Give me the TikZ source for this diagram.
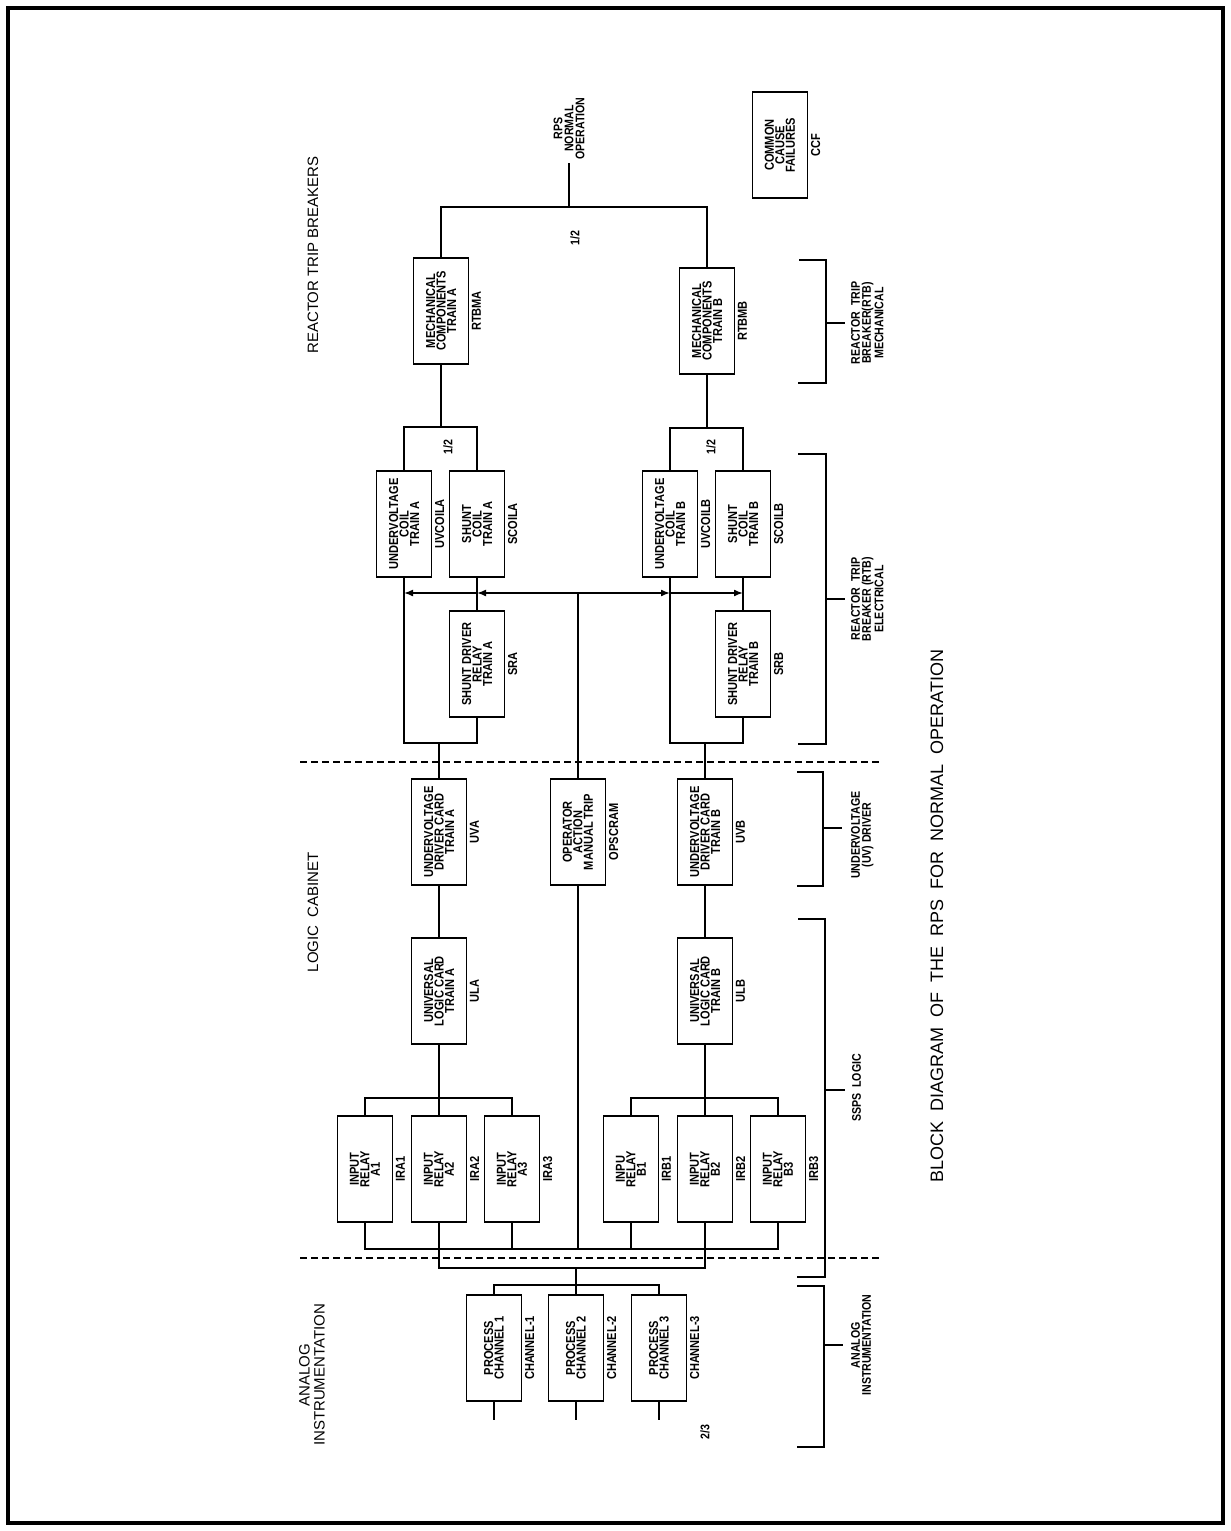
\documentclass[tikz,border=0pt]{standalone}
\usepackage{fontspec}
\setmainfont{Liberation Sans}
\newfontfamily\cadfont[FakeStretch=0.85]{Liberation Sans}
\usetikzlibrary{arrows.meta,positioning,calc}
\tikzset{blk/.style={draw,line width=1.6pt,rotate=90,minimum width=106pt,minimum height=55pt,
    inner sep=1pt,align=center,font=\cadfont\bfseries\fontsize{13}{10.5}\selectfont},
  tag/.style={rotate=90,anchor=north,inner sep=2.5pt,font=\cadfont\bfseries\fontsize{13}{11}\selectfont},
  note/.style={rotate=90,align=center,inner sep=0pt,font=\cadfont\bfseries\fontsize{12.5}{11}\selectfont},
  hdr/.style={rotate=90,align=center,inner sep=0pt,font=\fontsize{15}{15}\selectfont},
  wire/.style={line width=1.6pt},
  flow/.style={wire,-{Latex[length=9pt,width=7pt]}},
  sep/.style={line width=1.4pt,dash pattern=on 7pt off 4pt}}

\begin{document}
\begin{tikzpicture}[x=1pt,y=-1pt]
\useasboundingbox (0,0) rectangle (1231,1531);
\draw[line width=4pt] (8,8) rectangle (1223,1523);
% headings
\node[hdr] (hai) at (312,1375) {ANALOG\\INSTRUMENTATION};
\node[hdr] (hlc) at (313,912) {LOGIC~~CABINET};
\node[hdr] (hrt) at (313,255) {REACTOR TRIP BREAKERS};
\node[hdr,font=\fontsize{18}{18}\selectfont] (title) at (937,916)
  {BLOCK~~DIAGRAM~~OF~~THE~~RPS~~FOR~~NORMAL~~OPERATION};
% analog instrumentation
\foreach \n/\x in {1/494,2/576,3/659} {
  \node[blk] (pc\n) at (\x,1348) {PROCESS\\CHANNEL \n};
  \node[tag] at (pc\n.south) {CHANNEL-\n};
  \coordinate (in\n) at (\x,1420);
  \draw[wire] (pc\n.west) -- (in\n);}
\node[note] (twothree) at (705,1432) {2/3};
% ssps logic
\foreach \g/\x/\w in {A1/365/INPUT,A2/439/INPUT,A3/512/INPUT,B1/631/INPU,B2/705/INPUT,B3/778/INPUT} {
  \node[blk] (ir\g) at (\x,1169) {\w\\RELAY\\\g};
  \node[tag] at (ir\g.south) {IR\g};}
\node[blk] (ula) at (439,991) {UNIVERSAL\\LOGIC CARD\\TRAIN A};
\node[tag] at (ula.south) {ULA};
\node[blk] (ulb) at (705,991) {UNIVERSAL\\LOGIC CARD\\TRAIN B};
\node[tag] at (ulb.south) {ULB};
% uv driver
\node[blk] (uva) at (439,832) {UNDERVOLTAGE\\DRIVER CARD\\TRAIN A};
\node[tag] at (uva.south) {UVA};
\node[blk] (ops) at (578,832) {OPERATOR\\ACTION\\MANUAL TRIP};
\node[tag] at (ops.south) {OPSCRAM};
\node[blk] (uvb) at (705,832) {UNDERVOLTAGE\\DRIVER CARD\\TRAIN B};
\node[tag] at (uvb.south) {UVB};
% reactor trip breakers
\node[blk] (sra) at (477,664) {SHUNT DRIVER\\RELAY\\TRAIN A};
\node[tag] at (sra.south) {SRA};
\node[blk] (srb) at (743,664) {SHUNT DRIVER\\RELAY\\TRAIN B};
\node[tag] at (srb.south) {SRB};
\node[blk] (uvca) at (404,524) {UNDERVOLTAGE\\COIL\\TRAIN A};
\node[tag] at (uvca.south) {UVCOILA};
\node[blk] (scoa) at (477,524) {SHUNT\\COIL\\TRAIN A};
\node[tag] at (scoa.south) {SCOILA};
\node[blk] (uvcb) at (670,524) {UNDERVOLTAGE\\COIL\\TRAIN B};
\node[tag] at (uvcb.south) {UVCOILB};
\node[blk] (scob) at (743,524) {SHUNT\\COIL\\TRAIN B};
\node[tag] at (scob.south) {SCOILB};
\node[blk] (rtba) at (441,311) {MECHANICAL\\COMPONENTS\\TRAIN A};
\node[tag] at (rtba.south) {RTBMA};
\node[blk] (rtbb) at (707,321) {MECHANICAL\\COMPONENTS\\TRAIN B};
\node[tag] at (rtbb.south) {RTBMB};
\node[blk] (ccf) at (780,145) {COMMON\\CAUSE\\FAILURES};
\node[tag] at (ccf.south) {CCF};
% junctions
\coordinate (jp) at (576,1285);
\coordinate (bus1) at (578,1249);
\coordinate (bus2) at (576,1268);
\coordinate (ja) at (439,1098);
\coordinate (jb) at (705,1098);
\coordinate (la) at (439,743);
\coordinate (lb) at (705,743);
\coordinate (bs) at (578,593);
\coordinate (ha) at (441,427);
\coordinate (hb) at (707,428);
\coordinate (jt) at (569,207);
\coordinate (rps) at (569,163);
% wiring
\draw[wire] (pc1.east) |- (jp) -| (pc3.east);
\draw[wire] (pc2.east) -- (bus2);
\draw[wire] (irA2.west) |- (bus2) -| (irB2.west);
\draw[wire] (irA1.west) |- (bus1) -| (irB3.west);
\foreach \g in {A3,B1} \draw[wire] (ir\g.west) -- (ir\g.west |- bus1);
\draw[wire] (ops.west) -- (bus1);
\draw[wire] (irA1.east) |- (ja) -| (irA3.east);
\draw[wire] (irB1.east) |- (jb) -| (irB3.east);
\draw[wire] (irA2.east) -- (ula.west);
\draw[wire] (irB2.east) -- (ulb.west);
\draw[wire] (ula.east) -- (uva.west);
\draw[wire] (ulb.east) -- (uvb.west);
\draw[wire] (uva.east) -- (la);
\draw[wire] (uvb.east) -- (lb);
\draw[wire] (uvca.west) |- (la) -| (sra.west);
\draw[wire] (uvcb.west) |- (lb) -| (srb.west);
\draw[wire] (sra.east) -- (scoa.west);
\draw[wire] (srb.east) -- (scob.west);
\draw[wire] (ops.east) -- (bs);
\draw[flow] (bs) -- (sra.east |- bs);
\draw[flow] (sra.east |- bs) -- (uvca.west |- bs);
\draw[flow] (bs) -- (uvcb.west |- bs);
\draw[flow] (uvcb.west |- bs) -- (srb.east |- bs);
\draw[wire] (uvca.east) |- (ha) -| (scoa.east);
\draw[wire] (uvcb.east) |- (hb) -| (scob.east);
\draw[wire] (rtba.west) -- (ha);
\draw[wire] (rtbb.west) -- (hb);
\draw[wire] (rtba.east) |- (jt) -| (rtbb.east);
\draw[wire] (jt) -- (rps);
\node[note] (halfa) at (448,447) {1/2};
\node[note] (halfb) at (711,447) {1/2};
\node[note] (half) at (575,238) {1/2};
\node[note,anchor=west] (rpsop) at ([yshift=3pt]rps.center) {RPS\\NORMAL\\OPERATION};
% separators
\draw[sep] (300,762) -- (880,762);
\draw[sep] (300,1258) -- (880,1258);
% brackets on the right
\draw[wire] (799,260) -- (826,260) -- (826,383) -- (798,383);
\draw[wire] (826,323) -- (845,323);
\draw[wire] (798,454) -- (826,454) -- (826,744) -- (798,744);
\draw[wire] (826,599) -- (845,599);
\draw[wire] (797,772) -- (823,772) -- (823,886) -- (797,886);
\draw[wire] (823,828) -- (842,828);
\draw[wire] (798,919) -- (825,919) -- (825,1277) -- (797,1277);
\draw[wire] (825,1090) -- (845,1090);
\draw[wire] (797,1286) -- (824,1286) -- (824,1447) -- (797,1447);
\draw[wire] (824,1345) -- (843,1345);
\node[note,anchor=north] (lmech) at (851,323) {REACTOR~~TRIP\\BREAKER(RTB)\\MECHANICAL};
\node[note,anchor=north] (lelec) at (851,599) {REACTOR~~TRIP\\BREAKER~(RTB)\\ELECTRICAL};
\node[note,anchor=north] (luvd) at (851,835) {UNDERVOLTAGE\\(UV)~DRIVER};
\node[note,anchor=north] (lssps) at (852,1088) {SSPS~~LOGIC};
\node[note,anchor=north] (lana) at (851,1345) {ANALOG\\INSTRUMENTATION};
\end{tikzpicture}
\end{document}
